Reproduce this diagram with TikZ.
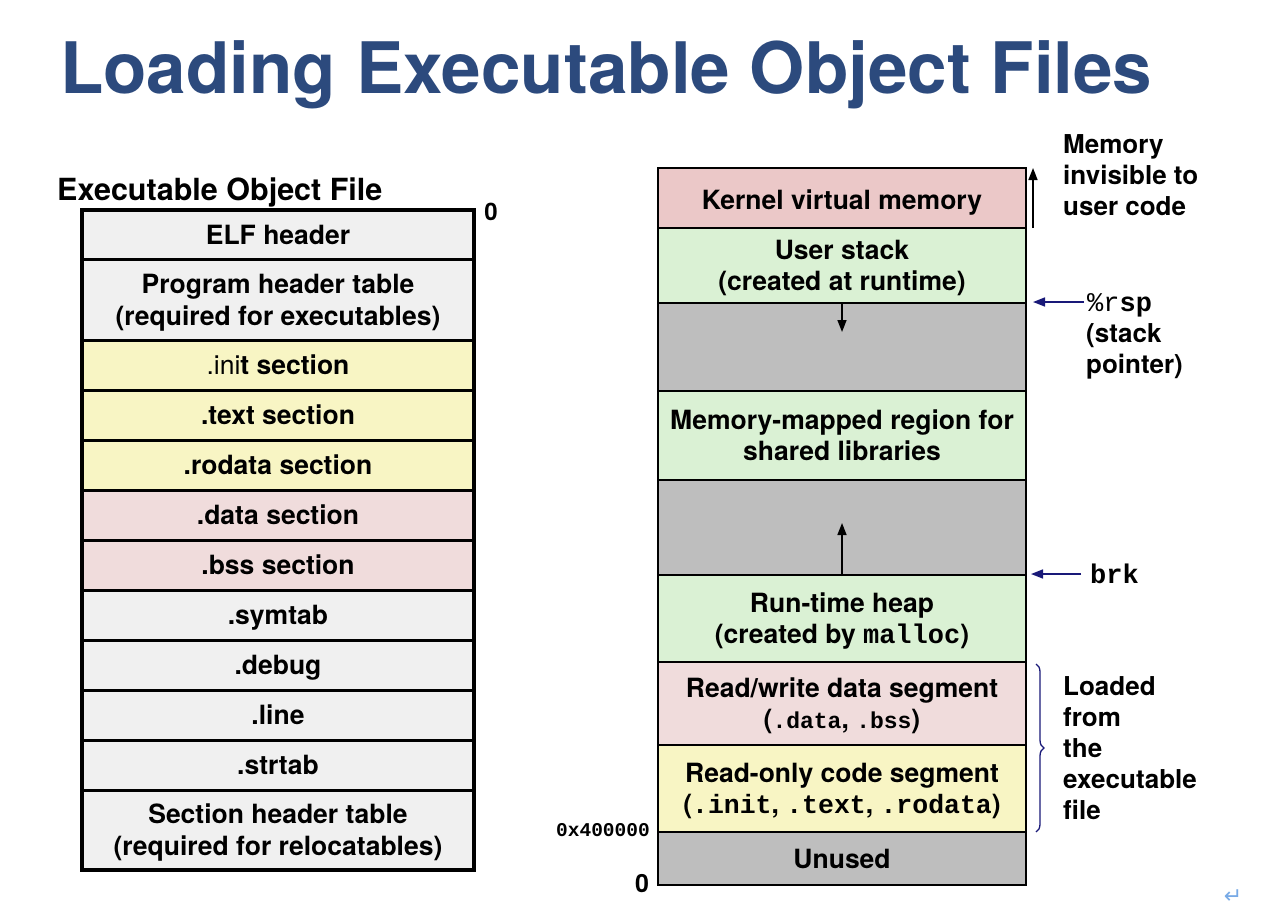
\documentclass[tikz,border=0pt]{standalone}
\usepackage{fontspec}
\setmainfont{TeX Gyre Heros}
\setmonofont{Liberation Mono}
\newfontfamily\symfont{DejaVu Sans}
\usetikzlibrary{arrows.meta,decorations.pathreplacing}
\definecolor{titleblue}{RGB}{44,74,125}
\definecolor{rowgray}{RGB}{240,240,240}
\definecolor{rowyel}{RGB}{248,245,196}
\definecolor{rowpink}{RGB}{240,220,220}
\definecolor{kernpink}{RGB}{235,200,200}
\definecolor{rowgreen}{RGB}{218,241,212}
\definecolor{gapgray}{RGB}{190,190,190}
\definecolor{navyarrow}{RGB}{25,25,120}
\definecolor{retblue}{RGB}{120,170,230}
\newcommand{\mono}[2]{{\fontsize{#1}{31}\selectfont\ttfamily\bfseries #2}}
\begin{document}
\begin{tikzpicture}[x=1pt,y=-1pt,
  lrow/.style={draw=black, line width=3pt, minimum width=392pt, inner sep=0pt, align=center,
    text depth=0pt, font=\fontsize{26.5}{32}\selectfont\bfseries},
  rrow/.style={draw=black, line width=2pt, minimum width=368pt, inner sep=0pt, align=center,
    text depth=0pt, font=\fontsize{26.5}{31}\selectfont\bfseries},
  lbl/.style={inner sep=0pt, align=left, font=\fontsize{26}{31}\selectfont\bfseries},
  blackarrow/.style={line width=1.6pt, -{Triangle[length=12pt,width=9pt]}},
  navyarr/.style={draw=navyarrow, line width=1.6pt, -{Triangle[length=12pt,width=9pt]}},
]
\useasboundingbox (0,0) rectangle (1280,916);
\fill[white] (0,0) rectangle (1280,916);

% title
\node[anchor=base west, inner sep=0pt, text=titleblue, font=\fontsize{71}{80}\selectfont\bfseries] (title) at (60,93) {Loading Executable Object Files};

% left heading
\node[anchor=base west, inner sep=0pt, font=\fontsize{30.5}{34}\selectfont\bfseries] (lhead) at (57,200) {Executable Object File};
\node[inner sep=0pt, font=\fontsize{24}{28}\selectfont\bfseries] (lzero) at (491,212) {0};

% left table
\node[lrow, fill=rowgray, minimum height=49pt] (elf) at (278,234.5) {ELF header};
\node[lrow, fill=rowgray, minimum height=81pt] (pht) at (278,299.5) {Program header table\\(required for executables)};
\node[lrow, fill=rowyel, minimum height=50pt] (init) at (278,365) {\mdseries .ini\bfseries t section};
\node[lrow, fill=rowyel, minimum height=50pt] (text) at (278,415) {.text section};
\node[lrow, fill=rowyel, minimum height=50pt] (rodata) at (278,465) {.rodata section};
\node[lrow, fill=rowpink, minimum height=50pt] (data) at (278,515) {.data section};
\node[lrow, fill=rowpink, minimum height=50pt] (bss) at (278,565) {.bss section};
\node[lrow, fill=rowgray, minimum height=50pt] (symtab) at (278,615) {.symtab};
\node[lrow, fill=rowgray, minimum height=50pt] (debug) at (278,665) {.debug};
\node[lrow, fill=rowgray, minimum height=50pt] (line) at (278,715) {.line};
\node[lrow, fill=rowgray, minimum height=50pt] (strtab) at (278,765) {.strtab};
\node[lrow, fill=rowgray, minimum height=80pt] (sht) at (278,830) {Section header table\\(required for relocatables)};
\draw[line width=4pt] (82,210) rectangle (474,870);

% right table
\node[rrow, fill=kernpink, minimum height=60pt] (kern) at (842,198) {\raisebox{-4pt}{Kernel virtual memory}};
\node[rrow, fill=rowgreen, minimum height=75pt] (ustack) at (842,265.5) {User stack\\(created at runtime)};
\node[rrow, fill=gapgray, minimum height=88pt] (gap1) at (842,347) {};
\node[rrow, fill=rowgreen, minimum height=89pt] (mmap) at (842,435.5) {Memory-mapped region for\\shared libraries};
\node[rrow, fill=gapgray, minimum height=95pt] (gap2) at (842,527.5) {};
\node[rrow, fill=rowgreen, minimum height=87pt] (heap) at (842,618.5) {Run-time heap\\(created by \mono{27}{malloc})};
\node[rrow, fill=rowpink, minimum height=83pt] (rw) at (842,703.5) {Read/write data segment\\(\mono{23}{.data}, \mono{23}{.bss})};
\node[rrow, fill=rowyel, minimum height=87pt] (ro) at (842,788.5) {Read-only code segment\\(\mono{26.5}{.init}, \mono{26.5}{.text}, \mono{26.5}{.rodata})};
\node[rrow, fill=gapgray, minimum height=53pt] (unused) at (842,858.5) {Unused};

% growth arrows
\draw[blackarrow] (gap1.north) -- ++(0,30);
\draw[blackarrow] (gap2.south) -- ++(0,-53);

% kernel arrow
\coordinate (kbot) at (1033,228);
\coordinate (ktop) at (1033,168);
\draw[blackarrow] (kbot) -- (ktop);
\node[lbl, anchor=west] (memlbl) at (1063,175) {Memory\\invisible to\\user code};

% rsp
\coordinate (rspfrom) at (1084,302);
\coordinate (rspto) at (1033,302);
\draw[navyarr] (rspfrom) -- (rspto);
\node[lbl, anchor=base west] (rsp) at (1087,311) {\fontsize{27}{31}\selectfont\ttfamily\mdseries \%r\bfseries sp};
\node[lbl, anchor=north west] (sp) at (1086,323) {(stack\\pointer)};

% brk
\coordinate (brkfrom) at (1081,574);
\coordinate (brkto) at (1031,574);
\draw[navyarr] (brkfrom) -- (brkto);
\node[lbl, anchor=west] (brk) at (1090,574) {\fontsize{27}{31}\selectfont\ttfamily\bfseries brk};

% brace
\coordinate (bt) at (1036,664);
\coordinate (bb) at (1036,832);
\draw[navyarrow, line width=1.3pt, decorate, decoration={brace, amplitude=8pt}] (bt) -- (bb);
\node[lbl, anchor=west] (loaded) at (1063,748) {Loaded\\from\\the\\executable\\file};

% addresses
\node[anchor=east, inner sep=0pt, font=\fontsize{19.5}{22}\selectfont\ttfamily\bfseries] (addr) at (650,830) {0x400000};
\node[inner sep=0pt, font=\fontsize{25}{28}\selectfont\bfseries] (rzero) at (642,884) {0};

% return glyph
\node[inner sep=0pt, text=retblue, font=\fontsize{22}{24}\selectfont\symfont] (ret) at (1233,897) {↵};
\end{tikzpicture}
\end{document}
